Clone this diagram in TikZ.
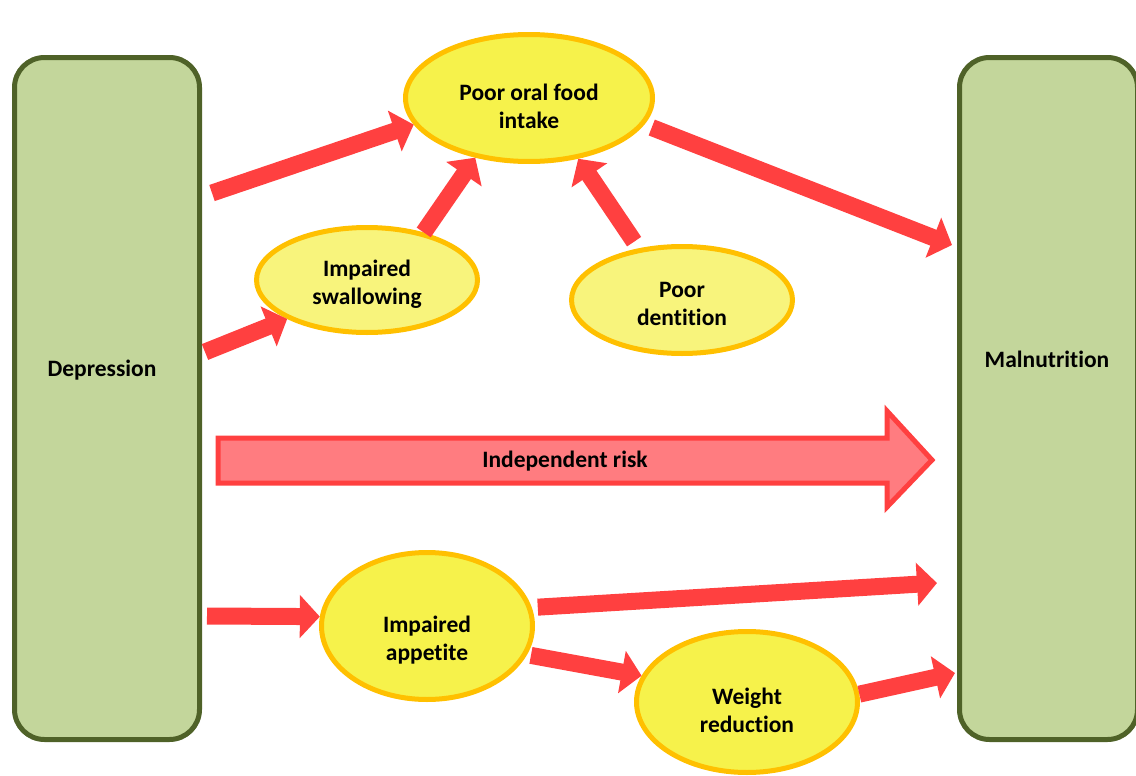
\documentclass[tikz,border=0pt]{standalone}
\usepackage{fontspec}
\setmainfont[Ligatures=NoCommon, Contextuals=NoAlternate]{Carlito}
\usetikzlibrary{arrows.meta,shapes.geometric}
\definecolor{boxgreen}{HTML}{C3D69B}
\definecolor{boxedge}{HTML}{4F6228}
\definecolor{ovalfill}{HTML}{F6F24B}
\definecolor{ovallight}{HTML}{F8F47C}
\definecolor{ovaledge}{HTML}{FFC000}
\definecolor{arrred}{HTML}{FF4040}
\definecolor{riskfill}{HTML}{FF7C80}
\begin{document}
\begin{tikzpicture}[x=0.5pt, y=-0.5pt, font=\fontsize{11.75}{14}\selectfont\bfseries, line join=miter,
	box/.style={draw=boxedge, fill=boxgreen, line width=2.5pt, rounded corners=15pt, minimum width=92.5pt, minimum height=341pt},
	oval/.style={ellipse, draw=ovaledge, fill=ovalfill, line width=2.5pt, inner sep=0pt},
	label/.style={align=center, inner sep=0pt},
	link/.style={arrred, line width=8.5pt, -{Triangle[length=10pt, width=21pt]}}]
	\useasboundingbox (0,0) rectangle (1136,776);
	% side boxes
	\node[box] (dep) at (107,398.5) {};
	\node[label] (deptext) at (102,370) {Depression};
	\node[box, minimum width=89pt] (mal) at (1048.5,398.5) {};
	\node[label] (maltext) at (1047,359) {Malnutrition};
	% ovals
	\node[oval, minimum width=123.5pt, minimum height=63.5pt] (intake) at (529,98) {};
	\node[label] (intaketext) at (529,106) {Poor oral food\\intake};
	\node[oval, fill=ovallight, minimum width=110.5pt, minimum height=52.5pt] (swallow) at (367,280) {};
	\node[label] (swallowtext) at (367,284) {Impaired\\swallowing};
	\node[oval, fill=ovallight, minimum width=110.5pt, minimum height=53.5pt] (dentition) at (682,300) {};
	\node[label] (dentitiontext) at (682,304) {Poor\\dentition};
	\node[oval, minimum width=105.5pt, minimum height=73.5pt] (appetite) at (427,626) {};
	\node[label] (appetitetext) at (427,640) {Impaired\\appetite};
	\node[oval, minimum width=110.5pt, minimum height=70.5pt] (weight) at (747,702) {};
	\node[label] (weighttext) at (747,710) {Weight\\reduction};
	% independent risk
	\draw[draw=arrred, fill=riskfill, line width=2.5pt] (218,438) -- (887,438) -- (887,411) -- (932,460) -- (887,507) -- (887,483) -- (218,483) -- cycle;
	\node[label] (risk) at (565,461) {Independent risk};
	% free ends
	\coordinate (d1) at (212,193);
	\coordinate (d2) at (205,352);
	\coordinate (d3) at (207,616);
	\coordinate (m1) at (952,245);
	\coordinate (m2) at (937,583);
	\coordinate (m3) at (955,673);
	% arrows
	\draw[link] (d1) -- (intake.193);
	\draw[link] (d2) -- (swallow.206);
	\draw[link] (swallow.40) -- (intake.228);
	\draw[link, shorten <=4pt] (dentition.130) -- (intake.309);
	\draw[link, shorten <=4pt] (intake.347) -- (m1);
	\draw[link] (d3) -- (appetite.175);
	\draw[link, shorten <=3pt] (appetite.10) -- (m2);
	\draw[link, shorten <=2pt] (appetite.-16) -- (weight.166);
	\draw[link] (weight.4) -- (m3);
\end{tikzpicture}
\end{document}
